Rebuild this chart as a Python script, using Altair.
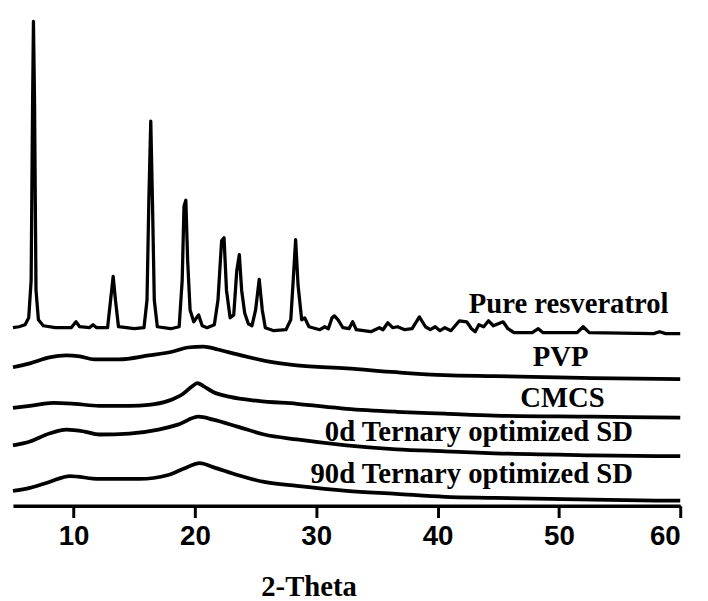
import altair as alt
import pandas as pd

# 2-Theta positions and offset intensities (a.u.)
pure_theta = [5.0, 5.5, 6.0, 6.3, 6.5, 6.62, 6.69, 6.78, 6.9, 7.1, 7.5, 8.5, 9.8, 10.2, 10.5,
              11.3, 11.6, 11.9, 12.8, 13.05, 13.26, 13.45, 13.7, 15.0, 15.8, 16.05, 16.2, 16.36,
              16.5, 16.65, 16.9, 18.0, 18.7, 18.95, 19.1, 19.25, 19.4, 19.6, 19.9, 20.3, 20.6,
              21.0, 21.6, 21.9, 22.2, 22.4, 22.6, 22.9, 23.2, 23.45, 23.66, 23.85, 24.1, 24.4,
              24.7, 25.0, 25.3, 25.55, 25.8, 26.5, 27.5, 27.9, 28.1, 28.3, 28.5, 28.8, 29.05,
              29.4, 30.3, 30.7, 31.0, 31.3, 31.5, 31.8, 32.2, 32.7, 33.0, 33.3, 34.5, 35.2, 35.5,
              35.9, 36.3, 36.7, 37.3, 37.9, 38.5, 39.0, 39.4, 39.8, 40.2, 40.6, 41.1, 41.8, 42.4,
              42.8, 43.1, 43.4, 43.8, 44.2, 44.6, 45.0, 45.4, 45.8, 46.3, 47.8, 48.3, 48.7, 51.5,
              52.0, 52.5, 57.8, 58.3, 58.8, 60.0]
pure_int = [180, 181, 183, 190, 228, 408, 490, 408, 218, 188, 182, 180, 180, 186, 181,
            180, 183, 180, 180, 208, 232, 208, 181, 179, 180, 208, 308, 389,
            308, 208, 181, 179, 181, 228, 303, 309, 248, 198, 186, 193, 182,
            180, 183, 208, 268, 271, 218, 190, 193, 238, 254, 218, 195, 184,
            182, 198, 229, 198, 180, 177, 178, 188, 228, 269, 223, 188, 190,
            181, 178, 181, 179, 190, 192, 188, 180, 179, 186, 178, 176, 180, 178,
            185, 180, 181, 178, 179, 191, 181, 178, 181, 177, 180, 177, 187, 186,
            179, 176, 183, 181, 187, 182, 184, 186, 179, 175, 175, 179, 175, 175,
            181, 175, 174, 176, 174, 174]

pvp_theta = [5.0, 6.4, 8.0, 9.4, 10.5, 11.7, 13.7, 16.2, 18.2, 19.4, 20.7, 21.9, 23.5, 26.0,
             28.4, 32.5, 36.6, 40.6, 44.7, 48.8, 52.8, 60.0]
pvp_int = [140, 144, 150, 152, 151, 148, 148, 152, 156, 160, 161, 158, 153, 146,
           142, 139, 135, 132, 131, 130, 129, 128]

cmcs_theta = [5.0, 6.4, 8.3, 10.1, 12.1, 14.6, 16.2, 17.8, 19.0, 19.7, 20.2, 20.7, 21.5, 22.9,
              25.2, 28.4, 32.5, 36.6, 40.6, 44.7, 52.8, 60.0]
cmcs_int = [99, 101, 104, 103, 101, 101, 102, 106, 113, 120, 124, 121, 115, 110,
            106, 103, 98, 95, 93, 91, 90, 89]

d0_theta = [5.0, 6.4, 8.0, 9.4, 10.9, 12.1, 14.6, 17.0, 18.6, 20.3, 21.5, 23.5, 25.7, 28.4,
            32.5, 36.6, 40.6, 44.7, 52.8, 60.0]
d0_int = [61, 65, 73, 77, 75, 72, 73, 77, 82, 90, 87, 80, 72, 67,
          61, 57, 55, 53, 51, 50]

d90_theta = [5.0, 6.4, 8.0, 9.7, 12.1, 15.4, 17.8, 19.0, 20.4, 21.5, 23.5, 25.7, 28.4,
             32.5, 36.6, 40.6, 44.7, 52.8, 60.0]
d90_int = [15, 18, 24, 30, 27, 27, 31, 37, 43, 39, 31, 24, 20,
           15, 12, 9, 8, 6, 5]

series_names = ["Pure resveratrol", "PVP", "CMCS",
                "0d Ternary optimized SD", "90d Ternary optimized SD"]
x_ticks = [10, 20, 30, 40, 50, 60]

# label anchor points (2-Theta, intensity)
label_theta = [50.8, 50.15, 50.3, 56.1, 56.1]
label_int = [195, 141, 100, 65, 23]
label_align = ["center", "center", "center", "right", "right"]

rows = []
for name, th, it in zip(series_names,
                        [pure_theta, pvp_theta, cmcs_theta, d0_theta, d90_theta],
                        [pure_int, pvp_int, cmcs_int, d0_int, d90_int]):
    for a, b in zip(th, it):
        rows.append({"sample": name, "theta": a, "intensity": b})
df = pd.DataFrame(rows)

lab = pd.DataFrame({"label": series_names, "theta": label_theta,
                    "intensity": label_int, "align": label_align})

xscale = alt.Scale(domain=[5, 60], nice=False, zero=False)
yscale = alt.Scale(domain=[0, 500], nice=False, zero=False)

xaxis = alt.Axis(values=x_ticks, grid=False, title="2-Theta",
                 domainColor="black", domainWidth=3.5,
                 tickColor="black", tickWidth=3, tickSize=12,
                 labelFont="Liberation Sans", labelFontWeight="bold",
                 labelFontSize=28, labelColor="black", labelPadding=5,
                 titleFont="Liberation Serif", titleFontWeight="bold",
                 titleFontSize=29, titleColor="black",
                 titleX=299, titleY=91, titleAlign="center",
                 titleBaseline="alphabetic")

pure = alt.Chart(df[df["sample"] == series_names[0]]).mark_line(
    color="black", strokeWidth=3.3, strokeJoin="round"
).encode(
    x=alt.X("theta:Q", scale=xscale, axis=xaxis),
    y=alt.Y("intensity:Q", scale=yscale, axis=None),
)

amorph = alt.Chart(df[df["sample"] != series_names[0]]).mark_line(
    color="black", strokeWidth=3.8, strokeJoin="round", interpolate="monotone"
).encode(
    x=alt.X("theta:Q", scale=xscale),
    y=alt.Y("intensity:Q", scale=yscale),
    detail="sample:N",
)

text_c = alt.Chart(lab[lab["align"] == "center"]).mark_text(
    font="Liberation Serif", fontWeight="bold", fontSize=29, color="black",
    align="center", baseline="alphabetic"
).encode(x=alt.X("theta:Q", scale=xscale), y=alt.Y("intensity:Q", scale=yscale),
         text="label:N")

text_r = alt.Chart(lab[lab["align"] == "right"]).mark_text(
    font="Liberation Serif", fontWeight="bold", fontSize=29, color="black",
    align="right", baseline="alphabetic"
).encode(x=alt.X("theta:Q", scale=xscale), y=alt.Y("intensity:Q", scale=yscale),
         text="label:N")

chart = alt.layer(pure, amorph, text_c, text_r).properties(
    width=675, height=500,
    autosize=alt.AutoSizeParams(type="none"),
    padding={"left": 5, "top": 0, "right": 20, "bottom": 93},
    background="white",
).configure_view(stroke=None)

chart.save("out.html", embed_options={"renderer": "svg", "actions": False})
